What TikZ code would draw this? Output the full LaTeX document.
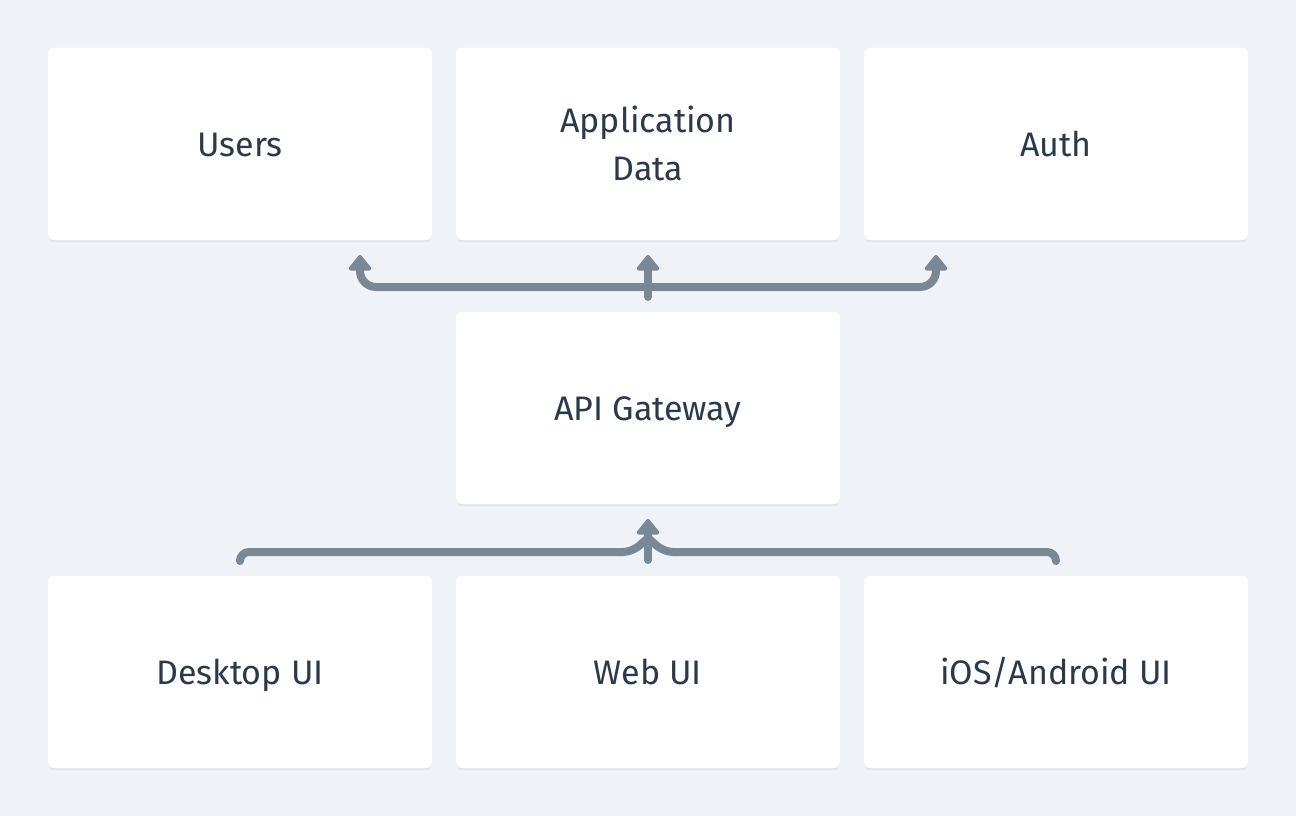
\documentclass[tikz,border=0pt]{standalone}
\usepackage{fontspec}
\setmainfont{Fira Sans}
\usetikzlibrary{arrows.meta,shadows}
\definecolor{bg}{HTML}{EFF3F7}
\definecolor{ln}{HTML}{7A8896}
\definecolor{tx}{HTML}{2B3A4A}
\tikzset{
  card/.style={fill=white, rounded corners=5pt, minimum width=384pt, minimum height=192pt,
    inner sep=0pt, text=tx, align=center, text height=24pt, text depth=0pt,
    font=\fontsize{34pt}{48pt}\selectfont,
    drop shadow={shadow xshift=0pt, shadow yshift=-2pt, opacity=0.05, fill=black}},
  conn/.style={draw=ln, line width=8pt, line cap=round, line join=round},
  tip/.style={-{Triangle[width=26pt,length=17pt,round]}}
}
\begin{document}
\begin{tikzpicture}[x=1pt,y=-1pt]
\useasboundingbox[fill=bg] (0,0) rectangle (1296,816);
\node[card] (users) at (240,144) {Users};
\node[card, text height=72pt] (appdata) at (648,144) {Application\\Data};
\node[card] (auth) at (1056,144) {Auth};
\node[card] (api) at (648,408) {API Gateway};
\node[card] (desk) at (240,672) {Desktop UI};
\node[card] (web) at (648,672) {Web UI};
\node[card] (ios) at (1056,672) {iOS/Android UI};
% top connectors
\coordinate (tm) at (648,287);
\coordinate (tl) at (360,287);
\coordinate (tr) at (936,287);
\coordinate (tmb) at (648,297);
\coordinate (ut) at (360,255);
\coordinate (at) at (648,255);
\coordinate (rt) at (936,255);
\draw[conn, tip, rounded corners=16pt] (tm) -- (tl) -- (ut);
\draw[conn, tip, rounded corners=16pt] (tm) -- (tr) -- (rt);
\draw[conn, tip] (tmb) -- (at);
% bottom connectors
\coordinate (dl) at (240,560);
\coordinate (dc) at (240,552);
\coordinate (il) at (1056,560);
\coordinate (ic) at (1056,552);
\coordinate (jl) at (632,552);
\coordinate (jr) at (664,552);
\coordinate (jm) at (648,538);
\coordinate (wb) at (648,560);
\coordinate (gt) at (648,519);
\draw[conn, rounded corners=9pt] (dl) -- (dc) -- (jl) -- (jm);
\draw[conn, rounded corners=9pt] (il) -- (ic) -- (jr) -- (jm);
\draw[conn, tip] (wb) -- (gt);
\end{tikzpicture}
\end{document}
